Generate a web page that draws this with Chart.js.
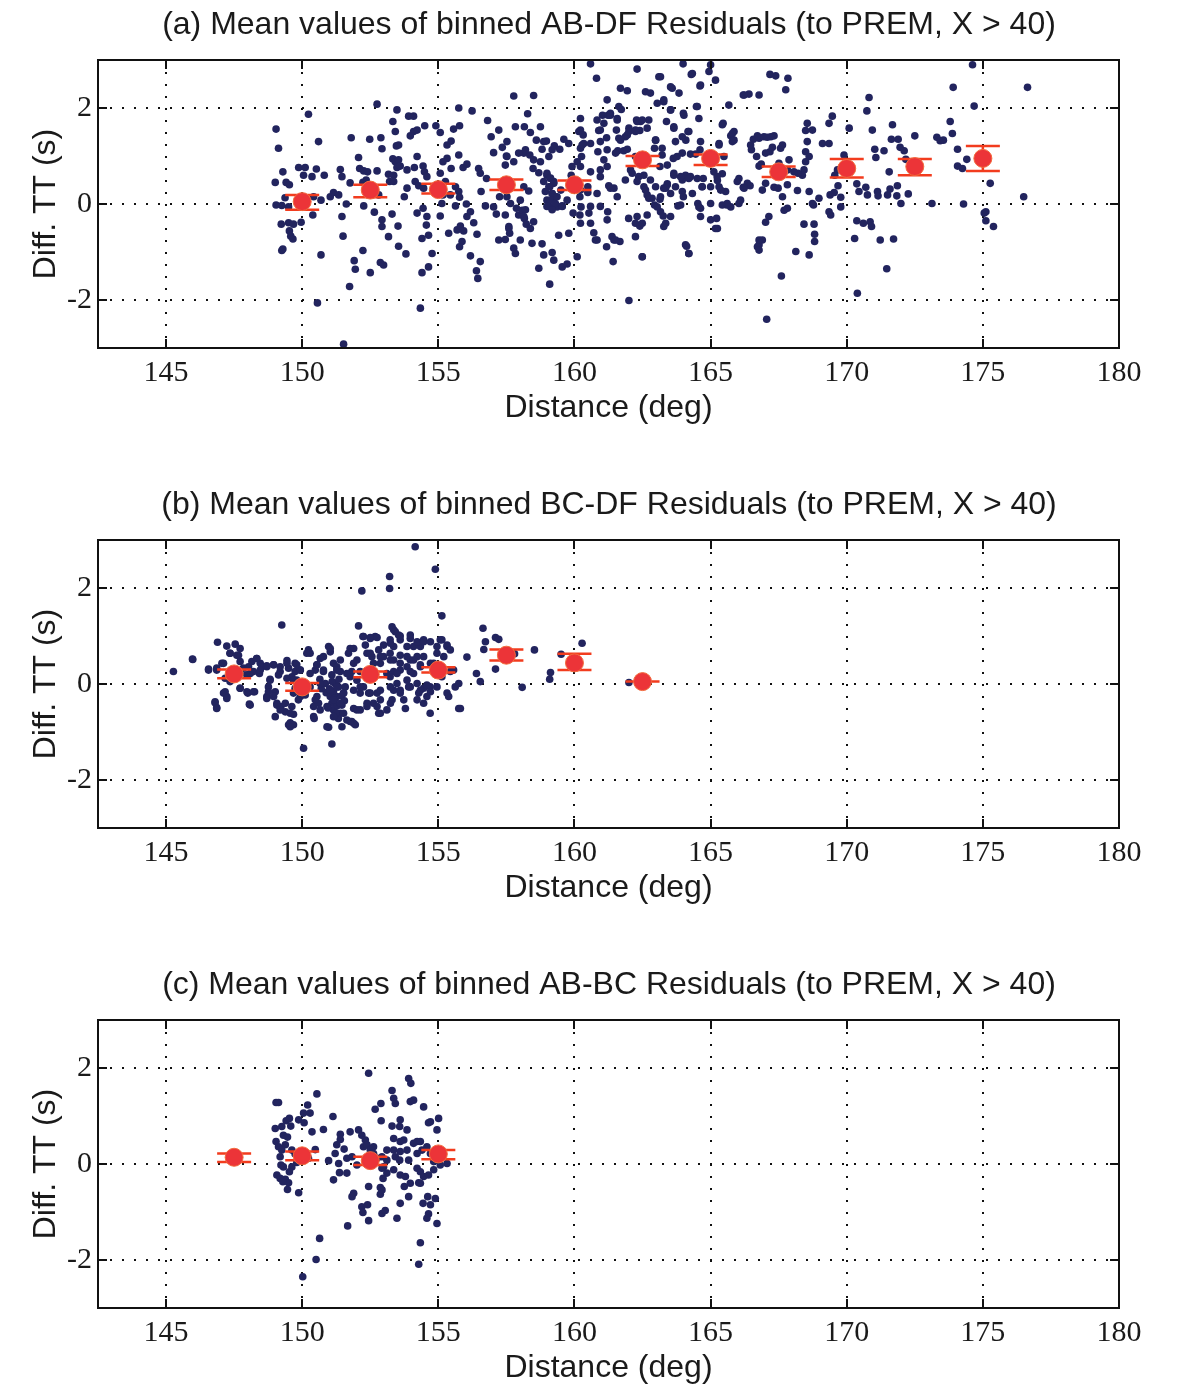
<!DOCTYPE html>
<html><head><meta charset="utf-8">
<script src="https://cdn.jsdelivr.net/npm/chart.js@4/dist/chart.umd.min.js"></script>
<style>
html,body{margin:0;padding:0;background:#fff;overflow:hidden;width:1182px;height:1386px}
.p{position:absolute;left:0;width:1218px;height:480px}
</style>
</head><body>
<div class="p" style="top:0"><canvas id="ca" width="1218" height="480"></canvas></div>
<div class="p" style="top:480px"><canvas id="cb" width="1218" height="480"></canvas></div>
<div class="p" style="top:960px"><canvas id="cc" width="1218" height="480"></canvas></div>
<script>
// ---------- data ----------
const xTicks = [145,150,155,160,165,170,175,180];
const yTicks = [-2,0,2];
const titles = [
  "(a) Mean values of binned AB-DF Residuals (to PREM, X > 40)",
  "(b) Mean values of binned BC-DF Residuals (to PREM, X > 40)",
  "(c) Mean values of binned AB-BC Residuals (to PREM, X > 40)"
];
const xLabel = "Distance (deg)";
const yLabel = "Diff. TT (s)";

// (a) AB-DF residuals [distance, residual]
const ptsA = [[149.04,1.56],[149.13,1.16],[150.23,1.87],[150.6,1.3],[149.29,0.67],[149.01,0.45],[149.41,0.45],[149.53,0.4],[149.87,0.76],[150.11,0.76],[150.05,0.6],[150.36,0.57],[150.52,0.73],[150.81,0.6],[149.37,0.13],[149.5,-0.06],[149.25,-0.03],[149.04,-0.02],[150.11,-0.03],[150.42,0.15],[150.69,0.08],[150.39,-0.23],[149.23,-0.42],[149.5,-0.39],[149.68,-0.42],[149.96,-0.38],[149.53,-0.56],[149.58,-0.67],[149.66,-0.73],[149.25,-0.97],[149.29,-0.94],[150.69,-1.06],[150.56,-2.06],[151.03,0.15],[151.15,0.24],[151.34,0.19],[151.4,0.72],[151.46,0.57],[151.62,0.0],[151.46,-0.26],[151.5,-0.67],[151.8,1.38],[152.07,0.97],[152.11,0.74],[152.26,0.69],[152.4,0.67],[152.35,0.5],[152.23,0.45],[151.76,0.44],[152.48,1.35],[152.89,1.38],[152.93,1.15],[152.75,2.08],[152.75,0.69],[153.17,0.62],[152.81,0.19],[152.26,-0.04],[152.65,-0.17],[152.93,-0.33],[152.93,-0.47],[153.3,-0.21],[153.17,-0.68],[153.52,-0.46],[152.23,-0.97],[151.91,-1.18],[151.95,-1.36],[152.5,-1.43],[152.87,-1.22],[152.99,-1.27],[151.74,-1.72],[151.52,-2.92],[153.54,-0.88],[153.81,-1.04],[153.33,1.72],[153.48,1.96],[153.91,1.83],[154.09,1.83],[153.42,1.51],[153.46,1.21],[153.54,1.23],[154.09,1.51],[154.22,1.54],[153.97,1.42],[154.5,1.63],[153.33,0.94],[153.42,0.88],[153.54,0.92],[153.48,0.76],[153.6,0.79],[153.36,0.6],[153.85,0.71],[153.21,0.47],[153.36,0.47],[154.22,0.99],[154.12,0.76],[154.44,0.79],[154.49,0.67],[154.58,0.57],[153.85,0.33],[153.75,0.15],[154.15,0.47],[154.28,0.38],[154.46,0.33],[154.22,-0.19],[154.44,-0.09],[154.58,-0.26],[154.56,-0.44],[154.64,-0.65],[154.4,-0.72],[154.77,-1.03],[154.64,-1.31],[154.4,-1.43],[154.95,0.26],[154.34,-2.17],[154.91,1.63],[155.07,1.49],[155.32,1.23],[155.47,1.31],[155.56,1.56],[155.78,1.63],[155.75,2.0],[156.24,1.94],[155.32,0.95],[155.17,0.88],[155.07,0.64],[155.26,0.47],[155.47,0.74],[155.75,1.02],[155.91,0.76],[156.05,0.83],[155.17,0.19],[155.13,0.01],[155.44,0.19],[155.63,0.36],[155.75,0.26],[155.78,0.14],[155.07,-0.25],[155.38,-0.61],[155.69,-0.54],[155.81,-0.46],[155.63,-0.04],[156.03,0.0],[155.93,-0.56],[155.87,-0.78],[155.78,-0.89],[156.05,-0.26],[156.18,-0.16],[156.42,-0.63],[156.3,-0.39],[156.18,-1.08],[156.54,-1.2],[156.4,-1.39],[156.45,-1.55],[156.48,0.74],[156.54,0.64],[156.57,0.26],[156.77,0.53],[156.81,1.74],[156.94,1.4],[157.03,1.07],[157.22,1.54],[157.35,1.18],[157.52,1.3],[157.5,1.0],[157.46,0.81],[157.83,1.61],[156.73,-0.04],[157.03,-0.06],[157.13,-0.21],[157.25,0.15],[157.22,-0.75],[157.46,-0.74],[157.59,-0.51],[157.62,-0.61],[157.87,-0.09],[157.95,-0.23],[157.77,2.25],[157.83,-1.03],
[158.5,2.26],[158.28,1.88],[158.16,1.61],[158.38,1.49],[158.75,1.61],[158.6,1.33],[158.87,1.3],[158.81,1.14],[158.97,1.31],[158.14,1.06],[158.36,1.02],[158.5,0.92],[158.75,0.88],[159.06,0.99],[159.18,1.13],[159.26,1.21],[159.46,1.14],[159.61,1.35],[159.79,1.26],[158.48,0.74],[158.69,0.65],[158.99,0.6],[159.12,0.53],[159.24,0.47],[159.09,0.36],[159.18,0.22],[159.3,0.15],[158.99,0.08],[159.12,-0.06],[159.36,-0.06],[159.55,-0.04],[158.14,0.36],[158.32,0.27],[158.08,-0.13],[158.16,-0.3],[158.23,-0.42],[158.38,-0.51],[158.5,-0.37],[158.01,-0.75],[158.44,-0.82],[158.81,-0.83],[159.18,-1.01],[158.87,-1.06],[159.24,-1.17],[159.42,-0.65],[158.69,-1.34],[159.09,-1.67],[159.55,-1.31],[159.73,-1.25],[159.79,-0.61],[159.91,0.78],[159.88,0.6],[160.1,0.88],[160.22,1.16],[160.26,0.99],[160.34,1.26],[160.49,0.36],[160.49,0.24],[160.2,0.15],[159.83,0.38],[160.22,1.78],[160.22,1.54],[160.32,1.44],[160.59,2.92],[160.81,2.62],[160.24,-0.06],[160.2,-0.23],[160.22,-0.4],[160.53,-0.19],[160.59,-0.4],[160.71,-0.6],[160.1,-1.1],[159.95,-0.19],[161.03,1.85],[161.08,1.68],[161.23,1.85],[161.32,1.89],[160.89,1.53],[160.95,1.3],[161.18,1.38],[160.86,1.09],[161.08,0.92],[161.2,0.78],[160.95,0.57],[161.26,0.38],[161.45,0.33],[160.83,0.22],[161.22,-0.16],[160.77,-0.75],[161.18,-0.89],[161.45,-0.75],[161.67,-0.78],[161.42,-1.2],[161.2,2.17],[161.69,2.41],[161.94,2.36],[161.63,2.03],[161.72,1.97],[161.57,1.78],[161.54,1.54],[161.63,1.37],[161.87,1.4],[162.0,1.58],[161.81,1.11],[161.59,1.11],[161.94,1.14],[162.3,2.81],[162.61,2.34],[162.79,2.31],[163.1,2.65],[163.04,2.1],[163.28,2.13],[163.59,2.41],[163.84,2.31],[163.99,2.92],[164.29,2.7],[164.61,2.46],[164.94,2.76],[165.0,2.9],[165.18,2.58],[162.28,1.75],[162.43,1.72],[162.73,1.75],[162.67,1.58],[162.4,1.53],[162.24,1.51],[161.94,1.44],[162.98,1.33],[162.94,1.16],[162.24,0.99],[162.43,0.99],[162.06,0.71],[162.12,0.64],[162.36,0.57],[162.3,0.47],[162.55,0.36],[162.67,0.19],[162.85,0.12],[162.94,-0.02],[163.14,0.1],[163.28,0.33],[163.41,0.42],[161.99,-0.3],[162.24,-0.4],[162.4,-0.46],[162.24,-0.68],[162.49,-1.1],[162.0,-2.01],[162.67,-0.23],[163.16,-0.16],[163.26,-0.25],[163.35,-0.4],[163.53,-0.26],[163.22,1.02],[163.14,0.78],[163.41,0.81],[163.63,0.95],[163.77,0.99],[163.96,1.06],[164.09,1.33],[164.17,1.51],[164.0,1.89],[163.65,1.58],[163.53,1.96],[163.38,1.72],[163.65,0.64],[163.71,0.36],[163.96,0.5],[164.08,0.6],[164.26,0.57],[164.48,2.03],[164.57,1.78],[164.63,1.3],[164.61,1.13],[164.45,1.04],[164.26,1.04],[163.96,0.26],[164.0,0.15],[164.33,0.22],[164.53,0.01],[164.63,-0.09],[164.69,0.36],[164.73,0.53],[163.8,-0.04],[164.12,-0.88],[164.2,-1.03],[165.12,1.02],[165.31,1.23],[165.46,1.68],[165.74,1.42],[165.8,1.3],[165.86,1.51],[166.04,0.53],[166.2,0.35],[166.35,0.43],[166.45,0.38],[165.43,0.63],[165.25,0.49],[165.12,0.67],[165.31,0.36],[165.55,0.26],[165.59,-0.02],[165.74,-0.06],[166.04,0.01],[166.2,2.27],[166.41,2.29],[165.0,-0.33],[165.22,-0.3],[165.25,-0.51],[166.78,-0.85],[166.69,0.99],[166.5,1.13],[166.57,1.35],[166.72,1.42],[166.78,0.79],
[158.99,0.64],[159.12,0.54],[159.24,0.43],[159.06,0.36],[158.93,0.26],[159.18,0.22],[159.12,0.08],[159.3,0.01],[158.99,-0.05],[159.18,-0.12],[159.36,0.15],[159.5,0.29],[158.87,0.47],[159.55,-0.05],[159.73,0.08],[157.52,0.99],[157.77,0.88],[157.95,1.06],[158.2,1.13],[157.52,0.15],[157.65,0.01],[158.01,0.08],[158.2,-0.12],[158.14,-0.26],[157.46,-0.23],[157.59,-0.47],[157.77,-0.92],[160.16,1.51],[160.28,1.23],[160.59,1.26],[160.83,1.75],[160.95,1.54],[161.32,1.85],[161.57,1.75],[161.2,1.13],[161.51,1.06],[161.69,1.33],[162.0,1.51],[160.22,0.78],[160.59,0.67],[160.95,0.71],[160.22,0.29],[160.59,-0.05],[160.95,-0.05],[161.32,0.33],[161.57,0.15],[161.87,0.5],[161.2,-0.33],[160.83,-0.75],[161.38,-0.68],[161.51,-0.75],
[163.16,2.65],[163.53,2.44],[164.33,2.72],[164.63,2.48],[163.28,2.17],[164.02,1.85],[164.51,2.03],[165.67,2.06],[166.23,2.27],[166.78,2.27],[163.53,1.96],[162.3,1.72],[162.49,1.75],[162.24,1.54],[162.98,1.33],[163.65,1.61],[163.96,1.4],[164.2,1.51],[163.71,1.3],[163.22,1.16],[165.43,1.65],[165.8,1.47],[165.86,1.33],[165.31,1.26],[165.49,0.99],[166.47,1.23],[166.78,1.37],[166.96,1.4],[162.55,0.6],[162.79,0.5],[162.98,0.36],[162.61,0.29],[163.41,0.4],[163.65,0.6],[163.9,0.57],[164.2,0.53],[164.51,0.53],[164.69,0.36],[165.0,0.36],[165.24,0.57],[165.37,0.29],[165.98,0.47],[166.23,0.33],[162.73,0.12],[163.16,0.15],[163.53,0.22],[163.04,-0.06],[163.35,0.33],[163.9,-0.02],[164.57,-0.06],[164.63,-0.26],[165.0,0.01],[165.43,-0.02],[165.61,0.01],[166.1,0.08],[162.3,-0.26],[162.49,-0.4],[163.28,-0.47],[165.18,-0.51],[164.08,-0.85],[164.2,-1.03],[162.49,-1.1],[166.72,-0.89],[166.78,-0.75],
[167.18,2.7],[167.39,2.67],[167.84,2.62],[167.76,2.38],[168.55,1.68],[168.74,1.54],[168.49,1.53],[168.55,1.3],[168.49,1.09],[168.62,0.99],[168.49,0.88],[168.43,0.71],[168.37,0.6],[168.21,0.64],[168.06,0.67],[167.88,0.92],[167.82,0.71],[167.64,0.71],[167.51,0.85],[167.57,1.16],[167.64,1.23],[167.33,1.42],[167.21,1.4],[167.08,1.39],[167.18,1.09],[167.02,1.06],[167.27,1.18],[166.86,0.83],[167.02,0.43],[166.9,0.29],[167.33,0.35],[167.48,0.33],[167.64,0.15],[167.7,-0.13],[167.82,-0.09],[167.82,0.4],[168.19,0.28],[168.62,0.26],[168.74,0.01],[168.78,-0.02],[168.98,0.12],[169.39,0.19],[169.54,0.24],[169.78,0.14],[169.78,-0.06],[169.35,-0.16],[169.41,-0.23],[169.68,0.38],[170.15,0.78],[167.02,-0.38],[167.14,-0.26],[166.78,-0.96],[166.9,-0.75],[168.13,-0.99],[168.62,-1.06],[168.43,-0.42],[168.8,-0.42],[168.82,-0.63],[168.82,-0.78],[167.6,-1.5],[167.06,-2.4],[169.11,1.26],[169.35,1.26],[169.35,1.68],[169.47,1.83],[170.09,1.58],[170.82,2.22],[170.74,1.94],[170.94,1.54],[171.03,1.14],[171.07,0.97],[171.37,1.11],[171.56,0.67],[171.68,1.65],[171.64,1.35],[171.89,1.35],[171.96,1.18],[172.11,1.11],[172.5,1.42],[172.17,0.93],[169.66,0.71],[169.56,0.6],[169.9,1.02],[170.37,0.42],[170.45,0.26],[170.7,0.35],[170.76,0.19],[171.13,0.26],[171.15,0.17],[171.5,0.19],[171.59,0.31],[171.86,0.38],[171.84,0.17],[171.99,0.01],[172.26,0.21],[173.13,0.01],[174.29,0.0],[170.37,-0.35],[170.61,-0.4],[170.86,-0.37],[170.91,-0.47],[170.29,-0.72],[171.23,-0.75],[171.72,-0.73],[171.47,-1.35],[170.39,-1.86],[173.31,1.39],[173.43,1.32],[173.55,1.33],[173.8,1.72],[173.88,1.47],[173.91,2.43],[174.07,1.14],[174.07,0.79],[174.25,0.74],[174.41,0.93],[174.68,2.04],[174.62,2.9],[176.64,2.43],[175.27,0.43],[176.5,0.15],[175.05,-0.19],[175.11,-0.16],[175.11,-0.35],[175.39,-0.47]];
const binsA = [150,152.5,155,157.5,160,162.5,165,167.5,170,172.5,175];
const meanA = [0.05,0.29,0.3,0.4,0.4,0.92,0.95,0.67,0.74,0.78,0.95];
const loA   = [-0.12,0.14,0.22,0.29,0.29,0.79,0.81,0.56,0.55,0.6,0.69];
const hiA   = [0.19,0.4,0.42,0.51,0.49,1.0,1.03,0.78,0.94,0.94,1.21];

// (b) BC-DF residuals
const ptsB = [[145.27,0.26],[145.97,0.52],[146.56,0.31],[146.89,0.87],[147.23,0.79],[147.54,0.83],[147.35,0.64],[147.66,0.6],[147.72,0.74],[147.05,0.43],[146.86,0.33],[147.17,0.12],[147.41,0.15],[147.72,0.22],[147.84,0.33],[147.97,0.19],[148.03,0.36],[148.21,0.26],[148.33,0.53],[148.46,0.43],[147.11,-0.19],[147.23,-0.26],[146.8,-0.39],[146.86,-0.49],[147.72,-0.09],[148.0,-0.19],[148.06,-0.42],[148.25,-0.16],[148.43,0.22],[148.52,0.36],[148.7,0.38],[148.95,0.4],[149.25,1.23],[149.19,0.26],[149.44,0.49],[149.5,0.33],[148.82,0.1],[148.76,-0.06],[148.7,-0.26],[149.01,-0.16],[149.07,-0.4],[149.22,-0.47],[149.38,-0.58],[149.62,-0.47],[149.68,-0.63],[149.5,-0.85],[149.56,-0.81],[149.74,0.26],[149.8,0.08],[149.74,-0.09],[149.93,0.29],[149.93,-0.26],[149.86,-0.33],[150.29,0.64],[150.23,0.71],[150.05,-1.34],[150.48,0.29],[150.54,0.4],[150.66,0.53],[150.78,0.26],[150.85,0.01],[150.88,-0.18],[150.54,-0.26],[150.42,-0.47],[150.44,-0.72],[150.97,0.78],[151.03,0.67],[151.15,0.43],[151.27,0.36],[151.4,0.26],[151.09,0.19],[151.21,0.01],[151.33,-0.06],[151.03,-0.26],[151.09,-0.4],[151.15,-0.54],[151.4,-0.61],[151.46,-0.44],[151.27,-0.26],[151.52,-0.19],[151.58,-0.06],[151.15,-0.16],[151.33,-0.72],[150.97,-0.9],[151.09,-1.25],[151.46,-0.89],[151.64,-0.75],[151.76,0.15],[151.89,0.43],[151.82,0.26],[151.76,0.74],[151.2,-0.3],[151.3,-0.45],[151.0,-0.1],[151.1,0.05],[151.45,-0.25],[151.25,-0.6],[150.95,-0.5],[151.35,0.1],[151.55,-0.35],[150.7,-0.1],[150.65,0.1],[150.6,-0.4],[152.07,1.21],[152.23,0.99],[152.5,0.95],[152.68,0.99],[152.38,0.64],[152.56,0.57],[152.81,0.71],[152.99,0.57],[152.87,0.43],[152.62,0.26],[152.44,0.15],[152.13,0.26],[152.01,0.08],[152.25,-0.06],[152.13,-0.19],[152.44,-0.19],[152.75,-0.19],[152.87,-0.33],[152.62,-0.4],[152.38,-0.47],[152.13,-0.54],[151.89,-0.51],[151.82,-0.78],[151.95,-0.85],[152.87,-0.61],[153.11,-0.54],[153.23,0.92],[153.36,1.13],[153.54,1.02],[153.6,0.92],[153.36,0.78],[153.23,0.64],[153.36,0.5],[153.6,0.6],[153.85,0.78],[153.97,0.95],[154.09,0.78],[154.34,0.78],[154.46,0.92],[153.36,0.26],[153.6,0.29],[153.85,0.36],[153.97,0.5],[154.22,0.57],[154.34,0.4],[154.09,0.22],[153.85,0.08],[153.48,0.01],[153.23,0.15],[153.36,-0.13],[153.6,-0.19],[153.91,-0.06],[154.22,0.01],[154.46,-0.09],[154.28,-0.19],[154.58,-0.26],[154.7,-0.06],[154.7,-0.61],[153.79,-0.51],[153.3,-0.33],[154.46,-0.4],[154.15,2.86],[154.89,2.39],[153.21,2.24],[153.21,1.99],[152.19,1.94],[155.13,1.42],[155.07,0.92],[155.32,0.78],[155.2,0.57],[154.95,0.64],[154.83,0.43],[155.44,0.26],[155.56,0.29],[155.13,0.15],[154.95,-0.06],[155.32,-0.19],[155.62,-0.06],[155.75,-0.51],[155.38,-0.26],[155.81,-0.51],[155.75,0.01],[156.05,0.56],[156.64,1.16],[156.73,0.88],[156.67,0.72],[157.1,0.97],[157.22,0.93],[156.4,0.22],[156.54,0.05],[157.1,0.31],[157.8,0.63],[158.08,-0.07],[158.53,0.71],[159.12,0.24],[159.09,0.1],[159.51,0.62],[160.28,0.85],[162.0,0.03],
[152.25,0.99],[152.5,0.97],[152.75,0.97],[153.3,1.19],[153.42,1.09],[153.6,1.0],[153.97,1.02],[154.22,0.88],[154.46,0.88],[154.71,0.88],[155.13,0.92],[155.32,0.81],[155.44,0.71],[154.95,0.78],[153.24,0.85],[152.99,0.81],[152.32,0.81],[150.17,0.64],[150.78,0.57],[151.03,0.74],[151.4,0.5],[151.7,0.64],[152.01,0.5],[151.89,0.74],[152.5,0.64],[152.87,0.57],[152.62,0.43],[153.24,0.5],[153.6,0.43],[153.85,0.57],[154.09,0.5],[154.46,0.57],[154.71,0.43],[154.34,0.36],[154.95,0.36],[153.97,0.26],[153.48,0.22],[153.11,0.22],[152.38,0.15],[151.64,0.22],[151.27,0.29],[150.78,0.29],[150.54,0.4],[150.29,0.22],[149.93,0.29],[149.74,0.43],[149.62,0.15],[149.8,-0.06],[150.29,-0.06],[150.66,0.01],[151.03,-0.13],[151.27,-0.06],[151.52,-0.19],[151.89,-0.13],[152.13,-0.06],[152.5,-0.19],[152.87,-0.13],[153.24,-0.06],[153.6,-0.13],[153.97,-0.06],[154.34,-0.13],[151.15,-0.33],[151.4,-0.4],[150.91,-0.47],[150.48,-0.33],[150.11,-0.23],[149.68,-0.19],[152.38,-0.4],[152.75,-0.47],[152.01,-0.54],[151.52,-0.61],[151.15,-0.68],[150.66,-0.54],[150.42,-0.68],[153.24,-0.4],[153.73,-0.33],[154.22,-0.33],[154.58,-0.02],[154.71,-0.16],[151.89,-0.82],[150.91,-0.89],[149.68,-0.85],[151.76,-0.78],[152.81,-0.61],
[147.35,0.64],[147.6,0.6],[147.72,0.47],[147.11,0.43],[146.86,0.29],[146.56,0.29],[145.98,0.51],[148.15,0.47],[148.33,0.53],[148.46,0.29],[148.7,0.36],[148.95,0.4],[149.19,0.36],[149.44,0.43],[149.8,0.4],[148.09,0.22],[148.82,0.08],[149.13,0.19],[149.44,0.12],[149.68,0.08],[147.35,0.05],[147.72,-0.09],[147.17,-0.16],[147.23,-0.3],[146.8,-0.37],[146.86,-0.51],[147.97,-0.16],[148.21,-0.16],[148.09,-0.44],[148.76,-0.16],[148.7,-0.3],[148.95,-0.26],[149.07,-0.44],[149.19,-0.54],[149.38,-0.4],[149.56,-0.61],[149.01,-0.68],[149.56,-0.89]];
const binsB = [147.5,150,152.5,155,157.5,160,162.5];
const meanB = [0.21,-0.06,0.2,0.29,0.6,0.44,0.05];
const loB   = [0.12,-0.14,0.14,0.24,0.49,0.29,0.05];
const hiB   = [0.3,0.02,0.26,0.35,0.72,0.63,0.05];

// (c) AB-BC residuals
const ptsC = [[149.04,1.28],[149.13,1.28],[149.01,0.74],[149.25,0.78],[149.41,0.9],[149.53,0.95],[149.58,0.79],[149.31,0.6],[149.46,0.56],[149.04,0.47],[149.13,0.36],[149.38,0.4],[149.25,0.29],[149.19,0.15],[149.22,-0.02],[149.31,-0.06],[149.62,-0.06],[149.53,-0.16],[149.07,-0.23],[149.19,-0.3],[149.38,-0.32],[149.5,-0.39],[149.46,-0.53],[149.29,-0.37],[149.62,0.29],[149.74,0.21],[149.87,0.92],[150.05,1.06],[150.2,1.23],[150.29,1.06],[150.07,0.86],[150.36,0.67],[150.54,1.46],[150.48,0.3],[150.23,0.12],[149.87,-0.6],[149.8,0.03],[150.64,-1.55],[150.51,-1.99],[150.02,-2.35],[150.78,0.72],[151.13,0.99],[150.97,0.07],[151.21,0.22],[151.27,0.4],[151.4,0.51],[151.4,0.62],[151.34,0.01],[151.54,0.31],[151.64,0.12],[151.37,-0.18],[151.64,-0.19],[151.15,-0.33],[151.83,0.15],[152.01,-0.02],[151.76,0.67],[152.07,0.71],[152.19,0.6],[152.32,0.5],[152.25,0.36],[152.38,0.4],[152.5,0.29],[152.62,0.36],[152.62,0.22],[152.44,0.08],[152.62,0.08],[152.75,0.12],[152.93,0.15],[153.11,0.08],[152.99,-0.06],[152.44,1.89],[152.68,1.14],[152.89,1.26],[152.9,0.9],[153.3,1.53],[153.36,1.37],[153.42,1.26],[153.6,0.92],[153.58,0.78],[153.3,0.79],[153.36,0.53],[153.6,0.47],[153.73,0.5],[153.85,0.71],[153.91,1.78],[153.99,1.68],[153.97,1.3],[154.09,1.33],[154.46,1.19],[154.71,0.88],[154.64,0.86],[155.01,0.95],[154.95,0.71],[153.11,0.29],[153.36,0.29],[153.42,0.15],[153.58,0.08],[153.6,0.26],[153.85,0.29],[154.09,0.43],[154.22,0.47],[154.34,0.47],[154.4,0.29],[154.22,0.22],[154.58,0.36],[154.71,0.22],[155.32,0.01],[155.07,-0.02],[154.83,0.05],[152.93,-0.09],[153.11,-0.19],[152.97,-0.3],[153.36,-0.12],[153.6,-0.23],[153.79,-0.26],[153.91,0.08],[154.22,-0.09],[154.34,-0.16],[154.46,-0.26],[154.28,-0.39],[154.64,-0.23],[154.83,-0.12],[153.75,-0.47],[152.87,-0.49],[152.87,-0.63],[152.93,-0.54],[152.44,-0.47],[151.89,-0.61],[151.83,-0.68],[152.19,-0.89],[152.23,-1.01],[152.4,-0.85],[152.93,-1.03],[153.05,-0.97],[153.48,-1.13],[153.6,-0.82],[153.91,-0.68],[154.34,-0.4],[154.61,-0.68],[154.89,-0.72],[154.44,-0.82],[154.71,-0.85],[154.64,-1.04],[154.58,-1.13],[153.97,-0.4],[152.44,-1.18],[151.67,-1.29],[154.34,-1.64],[154.28,-2.09],[154.95,-1.24]];
const binsC = [147.5,150,152.5,155];
const meanC = [0.14,0.17,0.07,0.21];
const loC   = [0.04,0.08,-0.02,0.1];
const hiC   = [0.22,0.26,0.15,0.29];

// ---------- styling ----------
const DOT = '#22245e';
const MEAN = '#ec3438';
const CAP = '#f23c1e';
const SANS = "'Liberation Sans', Arial, sans-serif";
const SERIF = "'Liberation Serif', 'Times New Roman', serif";

const matlabAxes = {
  id: 'matlabAxes',
  beforeDatasetsDraw(chart) {
    const {ctx, chartArea: a, scales: {x, y}} = chart;
    ctx.save();
    ctx.strokeStyle = '#111';
    ctx.lineWidth = 2;
    ctx.setLineDash([2, 10]);
    x.ticks.forEach(t => {
      const px = Math.round(x.getPixelForValue(t.value));
      ctx.beginPath(); ctx.moveTo(px, a.top); ctx.lineTo(px, a.bottom); ctx.stroke();
    });
    y.ticks.forEach(t => {
      const py = Math.round(y.getPixelForValue(t.value));
      ctx.beginPath(); ctx.moveTo(a.left, py); ctx.lineTo(a.right, py); ctx.stroke();
    });
    ctx.restore();
  },
  beforeDatasetDraw(chart, args) {
    if (args.index !== 0) return;
    const {ctx, scales: {x, y}} = chart;
    const ds = chart.data.datasets[0];
    ctx.save();
    ctx.strokeStyle = CAP;
    ctx.lineWidth = 2.5;
    ds.data.forEach((p, i) => {
      const px = x.getPixelForValue(p.x);
      const yl = y.getPixelForValue(ds.errLo[i]);
      const yh = y.getPixelForValue(ds.errHi[i]);
      ctx.beginPath();
      ctx.moveTo(px, yl); ctx.lineTo(px, yh);
      ctx.moveTo(px - 17, yl); ctx.lineTo(px + 17, yl);
      ctx.moveTo(px - 17, yh); ctx.lineTo(px + 17, yh);
      ctx.stroke();
    });
    ctx.restore();
  },
  afterDraw(chart) {
    const {ctx, chartArea: a, scales: {x, y}} = chart;
    ctx.save();
    ctx.strokeStyle = '#111';
    ctx.lineWidth = 2;
    ctx.strokeRect(a.left, a.top, a.right - a.left, a.bottom - a.top);
    ctx.beginPath();
    x.ticks.forEach(t => {
      const px = Math.round(x.getPixelForValue(t.value));
      ctx.moveTo(px, a.bottom); ctx.lineTo(px, a.bottom - 9);
      ctx.moveTo(px, a.top); ctx.lineTo(px, a.top + 9);
    });
    y.ticks.forEach(t => {
      const py = Math.round(y.getPixelForValue(t.value));
      ctx.moveTo(a.left, py); ctx.lineTo(a.left + 9, py);
      ctx.moveTo(a.right, py); ctx.lineTo(a.right - 9, py);
    });
    ctx.stroke();
    ctx.restore();
  }
};

function makeChart(id, title, pts, bins, mean, lo, hi) {
  new Chart(document.getElementById(id), {
    type: 'scatter',
    data: {
      datasets: [
        {
          label: 'mean',
          data: bins.map((b, i) => ({x: b, y: mean[i]})),
          errLo: lo, errHi: hi,
          backgroundColor: MEAN, borderColor: '#f26a3c', borderWidth: 1,
          pointRadius: 9
        },
        {
          label: 'residuals',
          data: pts.map(p => ({x: p[0], y: p[1]})),
          backgroundColor: DOT, borderWidth: 0,
          pointRadius: 3.8
        }
      ]
    },
    options: {
      responsive: false,
      animation: false,
      events: [],
      layout: {padding: 0},
      plugins: {
        legend: {display: false},
        tooltip: {enabled: false},
        title: {
          display: true, text: title, color: '#1a1a1a',
          font: {family: SANS, size: 32, weight: 'normal'},
          padding: {top: 6, bottom: 15.6}
        }
      },
      scales: {
        x: {
          type: 'linear', min: 142.5, max: 180,
          afterBuildTicks: s => { s.ticks = xTicks.map(v => ({value: v})); },
          grid: {display: false, drawTicks: false},
          border: {display: false},
          ticks: {color: '#1a1a1a', font: {family: SERIF, size: 30}, padding: 7,
                  maxRotation: 0, autoSkip: false, callback: v => String(v)},
          title: {display: true, text: xLabel, color: '#1a1a1a',
                  font: {family: SANS, size: 32}, padding: {top: 0, bottom: 53}},
          afterFit: s => { s.height = 132; }
        },
        y: {
          type: 'linear', min: -3, max: 3,
          afterBuildTicks: s => { s.ticks = yTicks.map(v => ({value: v})); },
          grid: {display: false, drawTicks: false},
          border: {display: false},
          ticks: {color: '#1a1a1a', font: {family: SERIF, size: 30}, padding: 6,
                  callback: v => String(v)},
          title: {display: true, text: yLabel, color: '#1a1a1a',
                  font: {family: SANS, size: 32}, padding: {top: 27, bottom: 0}},
          afterFit: s => { s.width = 98; }
        },
        yr: {
          position: 'right', display: true,
          grid: {display: false, drawTicks: false},
          border: {display: false},
          ticks: {display: false},
          afterFit: s => { s.width = 99; }
        }
      }
    },
    plugins: [matlabAxes]
  });
}

makeChart('ca', titles[0], ptsA, binsA, meanA, loA, hiA);
makeChart('cb', titles[1], ptsB, binsB, meanB, loB, hiB);
makeChart('cc', titles[2], ptsC, binsC, meanC, loC, hiC);
</script>
</body></html>
